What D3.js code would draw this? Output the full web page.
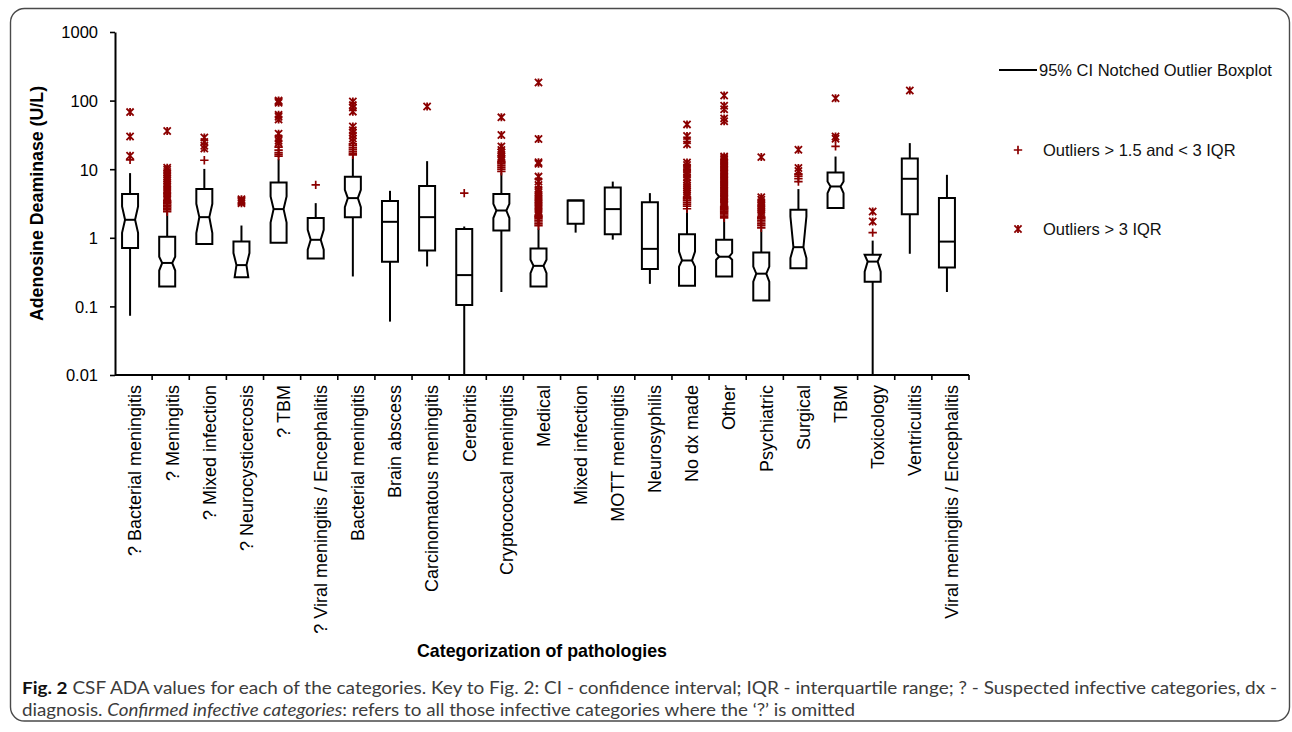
<!DOCTYPE html>
<html>
<head>
<meta charset="utf-8">
<script src="https://cdn.jsdelivr.net/npm/d3@7"></script>
<style>
  html, body { margin: 0; padding: 0; background: #fff; }
  svg { display: block; }
  .axis text { font-family: "Liberation Sans", Arial, sans-serif; fill: #000; }
</style>
</head>
<body>
<svg id="chart" width="1292" height="732"></svg>
<script>
// CSF adenosine deaminase (U/L) by pathology category
const categories = [
  "? Bacterial meningitis", "? Meningitis", "? Mixed infection", "? Neurocysticercosis",
  "? TBM", "? Viral meningitis / Encephalitis", "Bacterial meningitis", "Brain abscess",
  "Carcinomatous meningitis", "Cerebritis", "Cryptococcal meningitis", "Medical",
  "Mixed infection", "MOTT meningitis", "Neurosyphilis", "No dx made", "Other",
  "Psychiatric", "Surgical", "TBM", "Toxicology", "Ventriculitis",
  "Viral meningitis / Encephalitis"
];

const whiskerLow  = [0.073, 0.195, 0.81, 0.267, 0.85, 0.50, 0.273, 0.060, 0.382, 0.01, 0.162, 0.195, 1.19, 0.94, 0.213, 0.20, 0.273, 0.122, 0.36, 2.71, 0.01, 0.585, 0.162];
const q1          = [0.708, 0.195, 0.81, 0.267, 0.85, 0.50, 2.0, 0.447, 0.653, 0.105, 1.28, 0.195, 1.6, 1.13, 0.35, 0.20, 0.273, 0.122, 0.36, 2.71, 0.228, 2.21, 0.369];
const median      = [1.83, 0.43, 2.0, 0.40, 2.62, 0.935, 3.79, 1.71, 2.0, 0.286, 2.5, 0.39, 3.5, 2.62, 0.69, 0.467, 0.53, 0.30, 0.73, 5.6, 0.45, 7.25, 0.88];
const q3          = [4.34, 1.04, 5.13, 0.88, 6.4, 1.94, 7.75, 3.43, 5.67, 1.34, 4.34, 0.70, 3.5, 5.41, 3.31, 1.13, 0.935, 0.61, 2.56, 8.95, 0.565, 14.3, 3.79];
const whiskerHigh = [8.77, 2.29, 10.1, 1.51, 14.0, 3.2, 15.3, 4.84, 13.1, 1.46, 8.77, 1.38, 3.5, 6.6, 4.48, 2.56, 1.87, 1.31, 5.13, 15.3, 0.91, 24, 8.28];
// 95% CI of the median (notch); null = box drawn without notch
const notchLow    = [1.18, 0.333, 1.17, 0.206, 1.67, 0.67, 2.8, null, null, null, 1.94, 0.306, null, null, null, 0.38, 0.48, 0.23, 0.506, 4.48, 0.32, null, null];
const notchHigh   = [2.86, 0.53, 3.13, 0.60, 4.0, 1.31, 5.0, null, null, null, 3.13, 0.48, null, null, null, 0.63, 0.6, 0.38, 2.04, 6.6, 0.565, null, null];

// Outliers between 1.5 and 3 IQR
const mildOutliers = [
  [13.7],
  [2.4, 2.55, 2.7, 2.85, 3.0, 3.15, 3.3, 3.45],
  [13.5],
  [],
  [15.5, 16.5, 17.5, 19, 21],
  [5.9],
  [16.2, 17, 18, 19.2, 20.5, 22, 23.5],
  [],
  [],
  [4.48],
  [9.3, 10, 10.7, 11.5, 12.3, 13.0],
  [1.5, 1.6, 1.7, 1.8, 1.9, 2.0, 2.1],
  [],
  [],
  [],
  [2.65, 2.9, 3.1, 3.3, 3.5, 3.7, 3.9],
  [1.95, 2.05, 2.15, 2.25, 2.35, 2.45, 2.55, 2.65, 2.75, 2.85],
  [1.4, 1.5, 1.6, 1.7, 1.8, 1.9, 2.0],
  [6.6, 7.3, 7.9, 8.5],
  [21.5],
  [1.19],
  [],
  []
];

// Outliers beyond 3 IQR
const extremeOutliers = [
  [15.7, 30, 68],
  [3.6, 3.8, 4.0, 4.2, 4.5, 4.8, 5.1, 5.5, 5.9, 6.3, 6.8, 7.3, 7.9, 8.5, 9.1, 9.8, 10.5, 36],
  [20, 22, 25, 29],
  [3.2, 3.35, 3.5, 3.65],
  [24, 26, 28, 33, 53, 58, 62, 93, 97, 100],
  [],
  [25.5, 28, 31, 34, 37, 42, 69, 79, 86, 97],
  [],
  [82],
  [],
  [13.8, 14.5, 15.3, 16.3, 17.5, 19, 21.5, 31.5, 57],
  [2.25, 2.4, 2.55, 2.7, 2.85, 3.0, 3.2, 3.4, 3.6, 3.8, 4.0, 4.3, 4.6, 5.0, 5.9, 6.6, 7.8, 12, 12.6, 27.5, 184],
  [],
  [],
  [],
  [4.1, 4.4, 4.7, 5.0, 5.4, 5.8, 6.3, 7.0, 7.6, 8.3, 9.0, 9.8, 10.6, 11.5, 12.5, 23, 26.5, 30.5, 45],
  [2.95, 3.1, 3.25, 3.4, 3.55, 3.7, 3.85, 4.0, 4.2, 4.4, 4.6, 4.8, 5.0, 5.25, 5.5, 5.75, 6.0, 6.3, 6.6, 6.9, 7.2, 7.5, 7.9, 8.3, 8.7, 9.1, 9.5, 10, 10.5, 11, 11.5, 12, 12.6, 13.2, 13.9, 14.6, 15.3, 50, 55, 75, 84, 119],
  [2.15, 2.3, 2.45, 2.6, 2.75, 2.9, 3.1, 3.3, 3.6, 3.9, 15],
  [9.4, 10.4, 19.2],
  [27.8, 30, 108],
  [1.73, 2.42],
  [140],
  []
];

const yTicks = [0.01, 0.1, 1, 10, 100, 1000];
const yTickLabels = ["0.01", "0.1", "1", "10", "100", "1000"];

const legendLabels = ["95% CI Notched Outlier Boxplot", "Outliers > 1.5 and < 3 IQR", "Outliers > 3 IQR"];

// ---------------------------------------------------------------
const svg = d3.select("#chart");
const FONT = '"Liberation Sans", Arial, sans-serif';
const RED = "#8b0000";

// outer rounded frame
svg.append("rect")
  .attr("x", 10.5).attr("y", 8.5)
  .attr("width", 1279).attr("height", 712.5)
  .attr("rx", 14).attr("ry", 14)
  .attr("fill", "none").attr("stroke", "#4a4a4a").attr("stroke-width", 1.4);

const x = d3.scaleBand().domain(categories).range([115, 969]).padding(0);
const y = d3.scaleLog().domain([0.01, 1000]).range([375, 32]);

const boxShift = -3.5;
const cx = i => x(categories[i]) + x.bandwidth() / 2 + boxShift;
const halfW = 8, indent = 3;

// y axis
const yAxis = svg.append("g")
  .attr("class", "axis")
  .attr("transform", "translate(115,0)")
  .call(d3.axisLeft(y).tickValues(yTicks).tickSize(5).tickSizeOuter(0)
    .tickFormat((d, i) => yTickLabels[i]));
yAxis.select(".domain").attr("stroke", "#000").attr("stroke-width", 2);
yAxis.selectAll(".tick line").attr("stroke", "#000").attr("stroke-width", 1.6);
yAxis.selectAll(".tick text")
  .attr("x", -17).attr("dy", "0.36em")
  .style("font-size", "16.5px").style("font-family", FONT);

// x axis: labels at band centers, tick marks at band edges
const xAxis = svg.append("g")
  .attr("class", "axis")
  .attr("transform", "translate(0,375)")
  .call(d3.axisBottom(x).tickSize(0).tickSizeOuter(0));
xAxis.select(".domain").attr("stroke", "#000").attr("stroke-width", 2)
  .attr("d", "M115,0H969");
xAxis.selectAll(".tick text")
  .attr("transform", "rotate(-90)")
  .attr("x", -10).attr("y", 1.5).attr("dy", "0.35em")
  .attr("text-anchor", "end")
  .style("font-size", "18px").style("font-family", FONT);
const edges = categories.map(c => x(c)).concat([x.range()[1]]);
xAxis.selectAll(".edge-tick").data(edges.slice(1)).join("line")
  .attr("class", "edge-tick")
  .attr("x1", d => d).attr("x2", d => d)
  .attr("y1", 0).attr("y2", 5)
  .attr("stroke", "#000").attr("stroke-width", 1.6);

// axis titles
svg.append("text")
  .attr("transform", `translate(43,${(32 + 375) / 2}) rotate(-90)`)
  .attr("text-anchor", "middle")
  .style("font-family", FONT).style("font-weight", "bold").style("font-size", "17.8px")
  .text("Adenosine Deaminase (U/L)");
svg.append("text")
  .attr("x", (115 + 969) / 2).attr("y", 657)
  .attr("text-anchor", "middle")
  .style("font-family", FONT).style("font-weight", "bold").style("font-size", "17.8px")
  .text("Categorization of pathologies");

// box path with optional notch around the median
function boxPath(i) {
  const c = cx(i), L = c - halfW, R = c + halfW;
  const lm = Math.log(median[i]);
  const nL = notchLow[i], nH = notchHigh[i];
  const inset = v => {
    if (nL == null) return 0;
    const lv = Math.log(v);
    const edge = v >= median[i] ? Math.log(nH) : Math.log(nL);
    const span = Math.abs(edge - lm);
    if (span === 0) return 0;
    return indent * Math.max(0, 1 - Math.abs(lv - lm) / span);
  };
  const vals = [q3[i]];
  if (nL != null) {
    if (nH < q3[i]) vals.push(nH);
    vals.push(median[i]);
    if (nL > q1[i]) vals.push(nL);
  }
  vals.push(q1[i]);
  const left = vals.map(v => [L + inset(v), y(v)]);
  const right = vals.slice().reverse().map(v => [R - inset(v), y(v)]);
  return d3.line()(left.concat(right)) + "Z";
}

const boxes = svg.append("g");
categories.forEach((c, i) => {
  const g = boxes.append("g");
  const xc = cx(i);
  // whiskers
  g.append("line")
    .attr("x1", xc).attr("x2", xc)
    .attr("y1", y(q3[i])).attr("y2", y(whiskerHigh[i]))
    .attr("stroke", "#000").attr("stroke-width", 2);
  g.append("line")
    .attr("x1", xc).attr("x2", xc)
    .attr("y1", y(q1[i])).attr("y2", y(whiskerLow[i]))
    .attr("stroke", "#000").attr("stroke-width", 2);
  // box
  g.append("path")
    .attr("d", boxPath(i))
    .attr("fill", "#fff").attr("stroke", "#000").attr("stroke-width", 2)
    .attr("stroke-linejoin", "miter");
  // median
  const ind = notchLow[i] == null ? 0 : indent;
  g.append("line")
    .attr("x1", xc - halfW + ind).attr("x2", xc + halfW - ind)
    .attr("y1", y(median[i])).attr("y2", y(median[i]))
    .attr("stroke", "#000").attr("stroke-width", 2);
});

// outlier markers
const plusPath = "M-4.2,0H4.2M0,-4.2V4.2";
const starPath = "M-3.6,-3.6L3.6,3.6M-3.6,3.6L3.6,-3.6M0,-4V4";
const outl = svg.append("g");
categories.forEach((c, i) => {
  outl.selectAll(null).data(mildOutliers[i]).join("path")
    .attr("d", plusPath)
    .attr("transform", d => `translate(${cx(i)},${y(d)})`)
    .attr("fill", "none").attr("stroke", RED).attr("stroke-width", 1.7);
  outl.selectAll(null).data(extremeOutliers[i]).join("path")
    .attr("d", starPath)
    .attr("transform", d => `translate(${cx(i)},${y(d)})`)
    .attr("fill", "none").attr("stroke", RED).attr("stroke-width", 1.8);
});

// legend
const lg = svg.append("g");
lg.append("line").attr("x1", 999).attr("x2", 1037).attr("y1", 70).attr("y2", 70)
  .attr("stroke", "#000").attr("stroke-width", 2);
lg.append("path").attr("d", plusPath).attr("transform", "translate(1018,150)")
  .attr("fill", "none").attr("stroke", RED).attr("stroke-width", 1.7);
lg.append("path").attr("d", starPath).attr("transform", "translate(1018,229)")
  .attr("fill", "none").attr("stroke", RED).attr("stroke-width", 1.8);
[[1039, 70], [1043, 150], [1043, 229]].forEach((p, k) => {
  lg.append("text").attr("x", p[0]).attr("y", p[1]).attr("dy", "0.35em")
    .style("font-family", FONT).style("font-size", "16.5px").attr("fill", "#111")
    .text(legendLabels[k]);
});

// figure caption
const CAP = 'Lato, "Open Sans", sans-serif';
const cap1 = svg.append("text")
  .attr("x", 22).attr("y", 694)
  .attr("textLength", 1255).attr("lengthAdjust", "spacingAndGlyphs")
  .style("font-family", CAP).style("font-size", "17px").attr("fill", "#3c3c3c");
cap1.append("tspan").style("font-weight", "bold").attr("fill", "#111").text("Fig. 2");
cap1.append("tspan").text(" CSF ADA values for each of the categories. Key to Fig. 2: CI - confidence interval; IQR - interquartile range; ? - Suspected infective categories, dx -");

const cap2 = svg.append("text")
  .attr("x", 22).attr("y", 716)
  .attr("textLength", 833).attr("lengthAdjust", "spacingAndGlyphs")
  .style("font-family", CAP).style("font-size", "17px").attr("fill", "#3c3c3c");
cap2.append("tspan").text("diagnosis. ");
cap2.append("tspan").style("font-style", "italic").text("Confirmed infective categories");
cap2.append("tspan").text(": refers to all those infective categories where the \u2018?\u2019 is omitted");
</script>
</body>
</html>
